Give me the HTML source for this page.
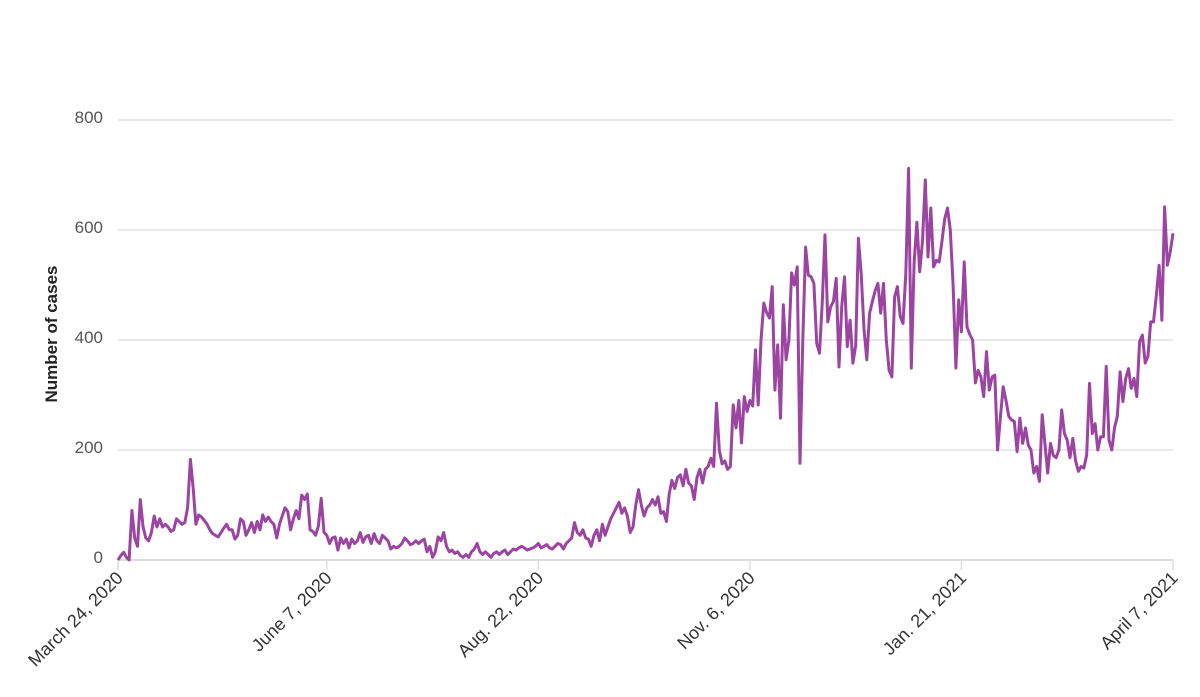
<!DOCTYPE html>
<html><head><meta charset="utf-8"><style>
body{margin:0;background:#fff;}
svg text{font-family:"Liberation Sans",sans-serif;}
</style></head><body>
<svg id="chart" width="1200" height="692" xmlns="http://www.w3.org/2000/svg">
<g id="grid"></g>
<g id="yticks"></g>
<g id="xaxis"></g>
<path id="line" fill="none" stroke="#9c44a2" stroke-width="3" stroke-linejoin="round"></path>
<text transform="translate(57,334) rotate(-90)" text-anchor="middle" font-size="17" font-weight="bold" fill="#222">Number of cases</text>
</svg>
<script>
const yTicks=[0,200,400,600,800];
const xTickDays=[0,75,151,227,303,379];
const xTickLabels=["March 24, 2020","June 7, 2020","Aug. 22, 2020","Nov. 6, 2020","Jan. 21, 2021","April 7, 2021"];
const cases=[0,8,14,5,0,90,40,25,110,60,40,35,50,80,60,75,60,65,60,52,55,75,70,65,68,95,183,130,65,82,78,72,65,55,48,45,42,50,58,65,55,55,38,45,75,70,45,55,68,50,70,55,82,70,78,70,65,40,65,80,95,88,55,75,90,75,118,110,120,55,52,45,62,112,50,45,
30,40,42,18,40,30,38,22,38,30,35,50,32,42,45,30,48,35,30,45,40,35,20,25,22,25,30,40,35,28,30,35,30,35,38,15,25,5,15,42,35,50,25,15,18,12,15,8,5,10,5,15,20,30,15,10,15,10,5,12,15,10,15,18,10,15,20,18,22,25,22,18,20,22,25,30,22,25,28,22,20,
25,30,28,20,30,35,40,68,50,45,55,40,38,25,45,55,35,65,45,60,75,85,95,105,85,95,80,50,60,100,128,100,80,95,100,110,100,115,85,88,70,120,145,130,150,155,135,165,140,135,110,150,165,140,165,170,185,170,285,200,175,180,165,170,
282,240,290,213,297,270,290,280,382,282,400,467,450,440,497,309,391,258,464,364,400,522,500,533,176,400,569,518,515,503,394,376,470,591,433,460,470,512,351,460,515,388,436,358,390,585,520,420,364,449,470,490,503,449,503,400,345,333,478,497,443,430,520,712,349,540,614,524,580,691,551,640,533,545,542,580,620,640,600,500,349,473,415,542,424,410,400,322,345,333,297,379,309,333,336,200,260,315,290,261,255,252,197,258,212,240,209,200,158,170,143,264,210,158,212,190,186,200,273,230,218,186,221,180,161,170,167,191,321,230,248,200,224,224,352,218,200,240,261,342,288,330,348,312,330,297,397,409,358,370,433,433,480,536,436,642,536,560,594];
const X0=118,X1=1173,Y0=560,Y1=120,NDAYS=379,YMAX=800;
const xs=d=>X0+d*(X1-X0)/NDAYS;
const ys=v=>Y0-v*(Y0-Y1)/YMAX;
const NS="http://www.w3.org/2000/svg";
function mk(tag,attrs,parent){const e=document.createElementNS(NS,tag);for(const k in attrs)e.setAttribute(k,attrs[k]);parent.appendChild(e);return e;}
const grid=document.getElementById('grid'),yt=document.getElementById('yticks'),xa=document.getElementById('xaxis');
yTicks.forEach(v=>{
  const l=mk('line',{x1:X0,x2:X1,y1:ys(v),y2:ys(v),stroke:v===0?'#ddd':'#e2e2e2','stroke-width':v===0?2:1.5},grid);
  
  
  const t=mk('text',{x:103,y:ys(v)+3,'text-anchor':'end','font-size':17,fill:'#555'},yt);
  t.textContent=v;
  
  
});
xTickDays.forEach((d,i)=>{
  const x=xs(d);
  const tk=mk('line',{x1:x,x2:x,y1:Y0,y2:Y0+10,stroke:'#ddd','stroke-width':1.5},xa);
  
  
  const t=mk('text',{transform:`translate(${x+6},${Y0+19}) rotate(-45)`,'text-anchor':'end','font-size':18,fill:'#333'},xa);
  t.textContent=xTickLabels[i];
  
  
});
let dstr='';
cases.forEach((v,i)=>{dstr+=(i?'L':'M')+xs(i).toFixed(1)+','+ys(v).toFixed(1);});
document.getElementById('line').setAttribute('d',dstr);
</script>
</body></html>
